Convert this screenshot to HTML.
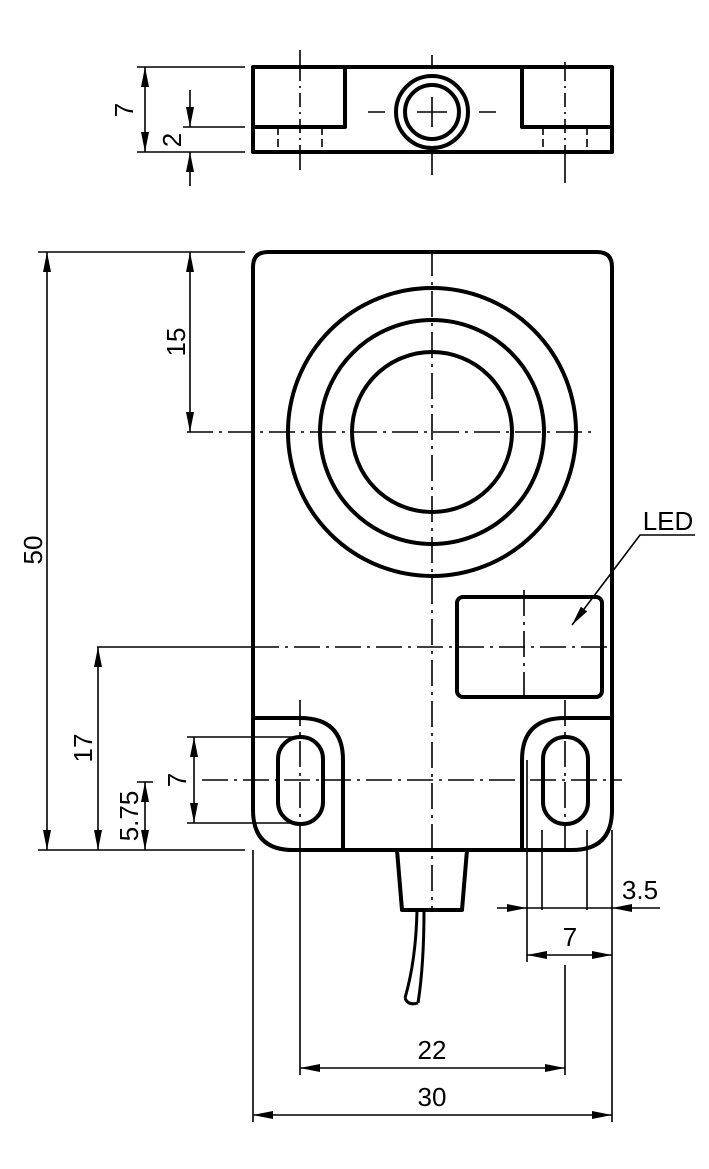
<!DOCTYPE html>
<html><head><style>html,body{margin:0;padding:0;background:#fff}svg{display:block}</style></head>
<body>
<svg width="709" height="1169" viewBox="0 0 709 1169" xmlns="http://www.w3.org/2000/svg" font-family="Liberation Sans, Arial, sans-serif">
<defs>
<marker id="a" viewBox="0 0 20 8" refX="20" refY="4" markerWidth="20" markerHeight="8" markerUnits="userSpaceOnUse" orient="auto-start-reverse"><path d="M0,0 L20,4 L0,8 z" fill="#000"/></marker>
</defs>
<rect width="709" height="1169" fill="#fff"/>
<g fill="none" stroke="#000" stroke-width="4" stroke-linejoin="round">
<rect x="253" y="67" width="359" height="85"/>
<path d="M253,127 H345 V67 M612,127 H522 V67"/>
<circle cx="432" cy="112" r="36"/>
<circle cx="432" cy="112" r="27"/>
<path d="M268,252 H597 Q612,252 612,267 V810 Q612,850 572,850 H293 Q253,850 253,810 V267 Q253,252 268,252 Z"/>
<path d="M253,718 H300 Q343,718 343,760 V850 M522,850 V760 Q522,718 565,718 H612"/>
<rect x="278" y="737" width="45" height="87" rx="22"/>
<rect x="543" y="737" width="45" height="87" rx="22"/>
<circle cx="432" cy="432" r="144"/>
<circle cx="432" cy="432" r="112"/>
<circle cx="432" cy="432" r="80"/>
<rect x="457" y="597" width="145" height="100" rx="6"/>
<path d="M397,850 L402,910 H462 L467,850"/>
<path d="M417,910 Q416,960 405,998 M424,910 Q424,965 418,1003" stroke-width="3"/>
<path d="M405,998 Q408,1006 418,1003" stroke-width="3"/>
</g>
<g fill="none" stroke="#000" stroke-width="1.6">
<path d="M137,67 H245 M183,127 H245 M137,152 H245"/>
<path d="M145,67 V152" marker-start="url(#a)" marker-end="url(#a)"/>
<path d="M190,90 V127" marker-end="url(#a)"/>
<path d="M190,186 V152" marker-end="url(#a)"/>
<path d="M300,50 V67 M300,152 V170 M432,55 V67 M432,152 V175 M565,62 V67 M565,152 V183"/>
<path d="M300,67 V152 M565,67 V152" stroke-dasharray="14,5,2,5"/>
<path d="M278,127 V152 M322,127 V152 M543,127 V152 M587,127 V152" stroke-dasharray="8,4"/>
<path d="M368,112 H385 M479,112 H496 M432,97 V127 M417,112 H447"/>
<path d="M432,250 V910" stroke-dasharray="26,6,3,6"/>
<path d="M187,432 H594" stroke-dasharray="26,6,3,6"/>
<path d="M97,647 H253"/>
<path d="M253,647 H612" stroke-dasharray="26,6,3,6"/>
<path d="M202,780 H622" stroke-dasharray="26,6,3,6"/>
<path d="M300,700 V850" stroke-dasharray="26,6,3,6"/>
<path d="M565,700 V850" stroke-dasharray="26,6,3,6"/>
<path d="M524,590 V700" stroke-dasharray="26,6,3,6"/>
<path d="M38,252 H245 M38,850 H245 M187,737 H300 M187,823 H300 M137,782 H153"/>
<path d="M47,252 V850" marker-start="url(#a)" marker-end="url(#a)"/>
<path d="M190,252 V432" marker-start="url(#a)" marker-end="url(#a)"/>
<path d="M98,647 V850" marker-start="url(#a)" marker-end="url(#a)"/>
<path d="M194,737 V823" marker-start="url(#a)" marker-end="url(#a)"/>
<path d="M145,782 V850" marker-start="url(#a)" marker-end="url(#a)"/>
<path d="M300,850 V1075 M253,850 V1122 M612,830 V1122 M565,965 V1075 M527,760 V962 M542,830 V910 M587,830 V910"/>
<path d="M300,1068 H565" marker-start="url(#a)" marker-end="url(#a)"/>
<path d="M253,1115 H612" marker-start="url(#a)" marker-end="url(#a)"/>
<path d="M497,908 H527" marker-end="url(#a)"/>
<path d="M660,908 H612" marker-end="url(#a)"/>
<path d="M527,908 H612"/>
<path d="M527,955 H612" marker-start="url(#a)" marker-end="url(#a)"/>
<path d="M695,535 H640 L572,625" marker-end="url(#a)"/>
</g>
<g font-size="26" fill="#000">
<text x="668" y="530" text-anchor="middle">LED</text>
<text x="432" y="1059" text-anchor="middle">22</text>
<text x="432" y="1106" text-anchor="middle">30</text>
<text x="640" y="899" text-anchor="middle">3.5</text>
<text x="570" y="946" text-anchor="middle">7</text>
<text transform="translate(133,110) rotate(-90)" text-anchor="middle">7</text>
<text transform="translate(181,140) rotate(-90)" text-anchor="middle">2</text>
<text transform="translate(42,550) rotate(-90)" text-anchor="middle">50</text>
<text transform="translate(185,342) rotate(-90)" text-anchor="middle">15</text>
<text transform="translate(92,748) rotate(-90)" text-anchor="middle">17</text>
<text transform="translate(186,780) rotate(-90)" text-anchor="middle">7</text>
<text transform="translate(138,816) rotate(-90)" text-anchor="middle">5.75</text>
</g>
</svg>
</body></html>
